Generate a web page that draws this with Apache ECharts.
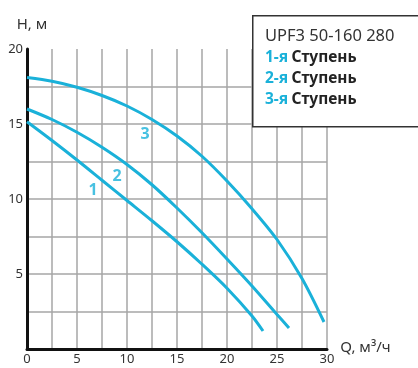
<!DOCTYPE html>
<html><head><meta charset="utf-8">
<script src="https://cdn.jsdelivr.net/npm/echarts@6/dist/echarts.min.js"></script>
<style>html,body{margin:0;padding:0;background:#fff}#c{width:418px;height:368px}</style>
</head><body><div id="c"></div>
<script>
const stage1Q = [0, 2.5, 5, 7.5, 10, 12.5, 15, 17.5, 20, 22.5, 23.6];
const stage1H = [15.15, 13.9, 12.6, 11.25, 9.9, 8.55, 7.15, 5.65, 4.05, 2.2, 1.2];
const stage2Q = [0, 2.5, 5, 7.5, 10, 12.5, 15, 17.5, 20, 22.5, 25, 26.2];
const stage2H = [16.0, 15.3, 14.45, 13.45, 12.3, 10.95, 9.4, 7.75, 6.0, 4.2, 2.3, 1.4];
const stage3Q = [0, 2.5, 5, 7.5, 10, 12.5, 15, 17.5, 20, 22.5, 25, 27.5, 29.7];
const stage3H = [18.1, 17.85, 17.45, 16.9, 16.2, 15.3, 14.2, 12.85, 11.2, 9.35, 7.3, 4.7, 1.8];
const curveLabels = ['1', '2', '3'];
const curveLabelQ = [6.6, 9.0, 11.8];
const curveLabelH = [10.6, 11.5, 14.3];
const xTicks = [0, 5, 10, 15, 20, 25, 30];
const yTicks = [5, 10, 15, 20];
const title = 'UPF3 50-160 280';
const legendNames = ['1-я', '2-я', '3-я'];
const legendWord = 'Ступень';

const CYAN = '#1ab1d9';
const FONT = 'Noto Sans';
const zip = (a, b) => a.map((v, i) => [v, b[i]]);
const chart = echarts.init(document.getElementById('c'));

const lineSeries = [[stage1Q, stage1H], [stage2Q, stage2H], [stage3Q, stage3H]].map((s, i) => ({
  type: 'line', name: curveLabels[i], data: zip(s[0], s[1]), smooth: 0.3, showSymbol: false,
  lineStyle: { color: CYAN, width: 3 }, z: 3, animation: false
}));

const legendText = '{t|' + title + '}\n' + legendNames.map(n => '{c|' + n + '} {b|' + legendWord + '}').join('\n');

chart.setOption({
  animation: false,
  grid: { left: 27, top: 49, width: 300, height: 300 },
  xAxis: {
    type: 'value', min: 0, max: 30, interval: 2.5,
    name: 'Q, м³/ч', nameLocation: 'end', nameGap: 12,
    nameTextStyle: { fontFamily: FONT, fontSize: 15, color: '#333', verticalAlign: 'bottom', padding: [0, 0, -6, 0] },
    axisLine: { show: true, lineStyle: { color: '#111', width: 3 } },
    axisTick: { show: false },
    axisLabel: { fontFamily: FONT, fontSize: 13, color: '#333', margin: 4,
      formatter: v => xTicks.includes(v) ? String(v) : '' },
    splitLine: { show: true, lineStyle: { color: '#a6a6a6', width: 1.5 } }
  },
  yAxis: {
    type: 'value', min: 0, max: 20, interval: 2.5,
    name: 'H, м', nameLocation: 'end', nameGap: 17,
    nameTextStyle: { fontFamily: FONT, fontSize: 15, color: '#333', padding: [0, 0, 0, 10] },
    axisLine: { show: true, lineStyle: { color: '#111', width: 3 } },
    axisTick: { show: false },
    axisLabel: { fontFamily: FONT, fontSize: 13, color: '#333', margin: 4,
      formatter: v => yTicks.includes(v) ? String(v) : '' },
    splitLine: { show: true, showMaxLine: false, lineStyle: { color: '#a6a6a6', width: 1.5 } }
  },
  series: lineSeries.concat([{
    type: 'scatter', symbolSize: 0, z: 4,
    data: curveLabels.map((t, i) => ({ value: [curveLabelQ[i], curveLabelH[i]], name: t })),
    label: { show: true, position: 'inside', formatter: p => p.name,
      fontFamily: FONT, fontSize: 16, fontWeight: 'bold', color: CYAN }
  }]),
  graphic: [{
    type: 'rect', left: 252, top: 15, z: 10,
    shape: { width: 170, height: 111 },
    style: { fill: '#fff', stroke: '#333', lineWidth: 1.5 }
  }, {
    type: 'text', left: 265, top: 28, z: 11,
    style: {
      text: legendText,
      rich: {
        t: { fontFamily: FONT, fontSize: 16.5, fill: '#333', lineHeight: 21 },
        c: { fontFamily: FONT, fontSize: 15.5, fontWeight: 'bold', fill: CYAN, lineHeight: 21 },
        b: { fontFamily: FONT, fontSize: 15.5, fontWeight: 'bold', fill: '#222', lineHeight: 21 }
      }
    }
  }]
});
</script></body></html>
